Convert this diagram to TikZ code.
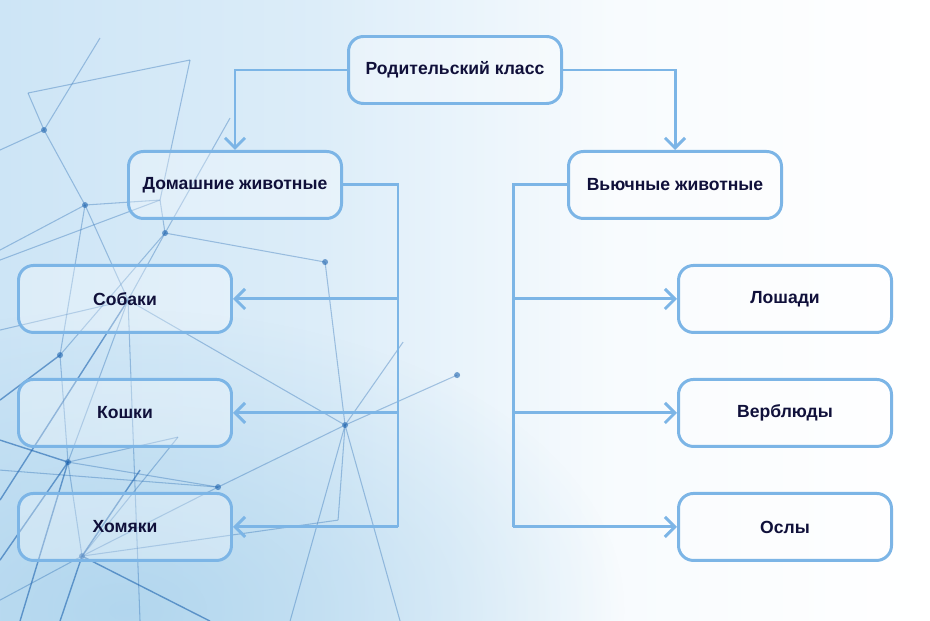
\documentclass[tikz,border=0pt]{standalone}
\usepackage{fontspec}
\setmainfont{Liberation Sans}
\usetikzlibrary{arrows.meta,positioning,calc,fadings}
\definecolor{linkblue}{RGB}{124,181,230}
\definecolor{inkblue}{RGB}{16,16,58}
\definecolor{bgblue}{RGB}{205,229,246}
\definecolor{deepbg}{RGB}{170,210,236}
\definecolor{netblue}{RGB}{30,100,175}
\pgfdeclarehorizontalshading{bgshade}{100bp}{color(0bp)=(bgblue); color(25bp)=(bgblue);
  color(42bp)=(bgblue!70!white); color(58bp)=(bgblue!15!white); color(75bp)=(white); color(100bp)=(white)}
\tikzfading[name=softspot, inner color=transparent!0, outer color=transparent!100]
\tikzset{
  cls/.style={rectangle, rounded corners=0.3cm, draw=linkblue, line width=1.7pt,
              fill=white, fill opacity=0.3, text opacity=1, text=inkblue,
              font=\bfseries\fontsize{10}{12}\selectfont,
              minimum width=4.26cm, minimum height=1.34cm},
  bus/.style={draw=linkblue, line width=1.7pt},
  link/.style={bus, -{Straight Barb[length=2mm, width=4mm]}},
  net/.style={draw=netblue, line width=0.6pt, opacity=0.35},
  darknet/.style={draw=netblue, line width=0.8pt, opacity=0.6}
}

\begin{document}
\begin{tikzpicture}[node distance=0.88cm and 1cm]
  \useasboundingbox (0,0) rectangle (18.6,-12.42);
  \shade[shading=bgshade] (0,0) rectangle (18.6,-12.42);
  \fill[deepbg, path fading=softspot, opacity=0.8] (2.5,-12.2) ellipse (10cm and 6cm);
  % network in the background
  \begin{scope}[x=0.02cm, y=-0.02cm]
    \foreach \ax/\ay/\bx/\by in {28/93/44/130, 44/130/85/205, 85/205/160/200, 160/200/165/233,
                       165/233/128/300, 85/205/60/355, 60/355/68/462, 68/462/82/556,
                       128/300/345/425, 325/262/345/425, 218/487/345/425, 178/437/68/462,
                       68/462/218/487, 82/556/218/487, 82/556/0/600, 165/233/325/262,
                       190/60/28/93, 100/38/44/130, 230/118/165/233, 190/60/160/200,
                       345/425/338/520, 338/520/82/556, 403/342/345/425, 85/205/128/300,
                       68/462/128/300, 60/355/165/233, 82/556/178/437, 0/330/128/300,
                       128/300/140/621, 345/425/290/621, 0/470/218/487, 457/375/345/425,
                       0/150/44/130, 0/250/85/205, 160/200/0/260, 345/425/400/621}
      \draw[net] (\ax,\ay) -- (\bx,\by);
    \foreach \ax/\ay/\bx/\by in {0/560/68/462, 0/500/128/300, 68/462/20/621, 82/556/60/621,
                       82/556/140/470, 60/355/0/400, 68/462/0/440, 82/556/210/621}
      \draw[darknet] (\ax,\ay) -- (\bx,\by);
    \foreach \px/\py in {44/130, 85/205, 165/233, 60/355, 68/462, 82/556, 325/262, 345/425, 218/487, 457/375}
      \fill[netblue, opacity=0.6] (\px,\py) circle (3);
  \end{scope}
  % classes
  \node[cls] (parent) at (9.10,-1.40) {Родительский класс};
  \node[cls, below=0.9cm of parent, xshift=-4.4cm] (home) {Домашние животные};
  \node[cls, below=0.9cm of parent, xshift=4.4cm] (pack) {Вьючные животные};
  \node[cls, below=of home, xshift=-2.2cm] (dogs) {Собаки};
  \node[cls, below=of dogs] (cats) {Кошки};
  \node[cls, below=of cats] (hamsters) {Хомяки};
  \node[cls, below=of pack, xshift=2.2cm] (horses) {Лошади};
  \node[cls, below=of horses] (camels) {Верблюды};
  \node[cls, below=of camels] (donkeys) {Ослы};
  % connectors
  \draw[link] (parent.west) -| (home.north);
  \draw[link] (parent.east) -| (pack.north);
  \coordinate[right=1.1cm of home.east] (homebus);
  \coordinate[left=1.08cm of pack.west] (packbus);
  \draw[bus] (home.east) -- (homebus) -- (homebus |- hamsters.east);
  \draw[bus] (pack.west) -- (packbus) -- (packbus |- donkeys.west);
  \foreach \n in {dogs,cats,hamsters}
    \draw[link] (homebus |- \n.east) -- (\n.east);
  \foreach \n in {horses,camels,donkeys}
    \draw[link] (packbus |- \n.west) -- (\n.west);
\end{tikzpicture}
\end{document}
